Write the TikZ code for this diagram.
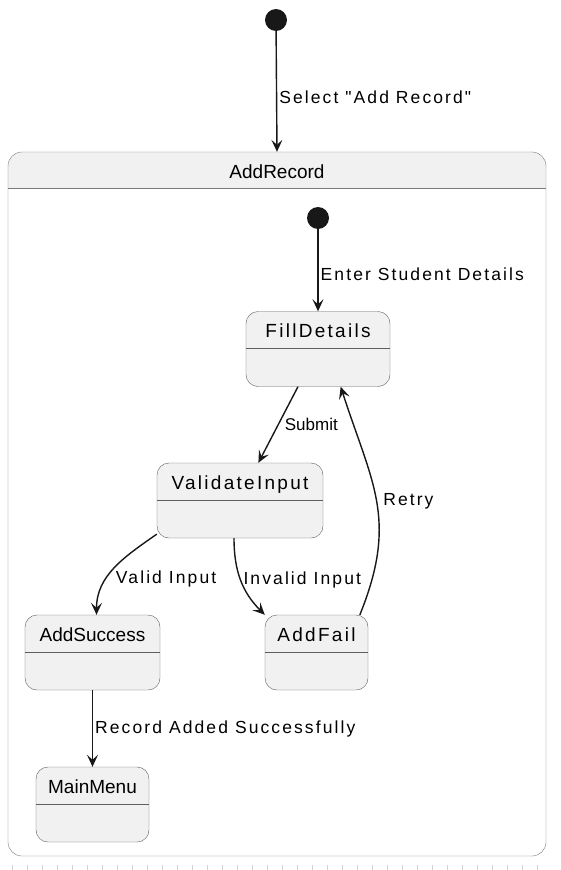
\documentclass[tikz,border=0pt]{standalone}
\usepackage{fontspec}
\setmainfont{Liberation Sans}
\newfontfamily\wide[LetterSpace=12]{Liberation Sans}
\usetikzlibrary{arrows.meta}
\definecolor{statefill}{HTML}{F1F1F1}
\definecolor{linegray}{HTML}{181818}
\definecolor{edgegray}{HTML}{5E5E5E}
\definecolor{boxgray}{HTML}{7A7A7A}

\begin{document}
\begin{tikzpicture}[x=1pt, y=-1pt, node distance=152pt,
    main/.style = {draw=edgegray, fill=statefill, rounded corners=12pt, minimum height=75pt, inner xsep=0pt, inner ysep=0pt, text height=26pt, text depth=49pt, font=\fontsize{19}{22}\selectfont},
    dot/.style = {circle, fill=linegray, minimum size=22pt, inner sep=0pt},
    tr/.style = {draw=linegray, line width=1.4pt, -{Stealth[length=12pt, width=11pt, inset=5pt]}},
    lbl/.style = {font=\wide\fontsize{17.5}{20}\selectfont, inner sep=2pt}]

    \useasboundingbox (0,0) rectangle (560,870);

    % composite state
    \begin{scope}
        \clip[rounded corners=14pt] (8,152) rectangle (546,856);
        \fill[statefill] (8,152) rectangle (546,188);
    \end{scope}
    \node[draw=boxgray, rounded corners=14pt, minimum width=538pt, minimum height=704pt, inner sep=0pt] (rec) at (277,504) {};
    \draw[boxgray] ([yshift=-36pt]rec.north west) -- ([yshift=-36pt]rec.north east);
    \node[font=\fontsize{19}{22}\selectfont] (title) at (277,172) {AddRecord};

    \node[dot] (start) at (276,20) {};
    \node[dot] (inner) at (318,218) {};

    \node[main, minimum width=144pt] (fill) at (318,349) {\wide FillDetails};
    \node[main, minimum width=166pt] (val) at (240,500.5) {\wide ValidateInput};
    \node[main, minimum width=135pt] (succ) at (92.5,652.5) {AddSuccess};
    \node[main, minimum width=103pt, right of=succ, node distance=224pt] (fail) {\wide AddFail};
    \node[main, minimum width=113pt, below of=succ] (menu) {MainMenu};

    \draw[edgegray] ([yshift=-37pt]fill.north west) -- ([yshift=-37pt]fill.north east);
    \draw[edgegray] ([yshift=-37pt]val.north west) -- ([yshift=-37pt]val.north east);
    \draw[edgegray] ([yshift=-37pt]succ.north west) -- ([yshift=-37pt]succ.north east);
    \draw[edgegray] ([yshift=-37pt]fail.north west) -- ([yshift=-37pt]fail.north east);
    \draw[edgegray] ([yshift=-37pt]menu.north west) -- ([yshift=-37pt]menu.north east);

    \draw[tr] (start) -- node[lbl, right, pos=0.55] {Select "Add Record"} (rec.north);
    \draw[tr] (inner) -- node[lbl, right, pos=0.55] {Enter Student Details} (fill);
    \draw[tr] (fill.-118) -- node[lbl, right=4pt, font=\fontsize{17}{20}\selectfont] {Submit} (val.64);
    \draw[tr] (val.202) to[out=215, in=90] node[lbl, right, pos=0.64, xshift=7pt] {Valid Input} ([xshift=4pt]succ.north);
    \draw[tr] ([xshift=-6pt]val.south) to[out=-90, in=135] node[lbl, right, pos=0.5] {Invalid Input} (fail.north west);
    \draw[tr] (fail.41) to[out=68, in=-72, looseness=1.15] node[lbl, right, pos=0.5, xshift=4pt] {Retry} (fill.-59);
    \draw[tr] (succ) -- node[lbl, right, pos=0.5] {Record Added Successfully} (menu);

    \draw[gray!35, line width=5pt, dash pattern=on 1pt off 14pt] (12,867) -- (552,867);

\end{tikzpicture}
\end{document}
